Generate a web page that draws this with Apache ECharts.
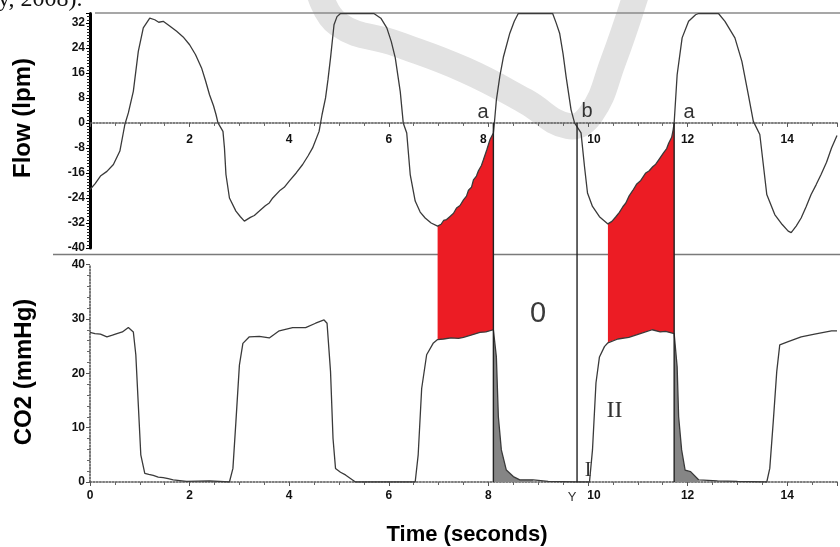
<!DOCTYPE html>
<html><head><meta charset="utf-8">
<script src="https://cdn.jsdelivr.net/npm/echarts@6/dist/echarts.min.js"></script>
<style>html,body{margin:0;padding:0;background:#fff}#c{width:840px;height:547px}</style>
</head><body><div id="c"></div>
<script>
// ---- data (time in seconds) ----
const timeTicks = [0, 2, 4, 6, 8, 10, 12, 14];
const flowTicks = [-40, -32, -24, -16, -8, 0, 8, 16, 24, 32];
const co2Ticks = [0, 10, 20, 30, 40];

// Flow (lpm): [time, value]; the trace is clipped by the display at ~35
const flowSamples = [
  [0.00,-21.3],[0.10,-19.5],[0.21,-17.0],[0.34,-15.5],[0.47,-13.3],[0.60,-9.0],[0.70,-0.5],[0.77,3.2],
  [0.87,10.1],[0.97,22.9],[1.07,30.4],[1.20,33.5],[1.30,33.0],[1.38,32.2],[1.47,32.5],[1.60,31.0],
  [1.74,29.3],[1.87,27.5],[2.00,25.0],[2.12,21.8],[2.24,17.6],[2.32,13.5],[2.40,9.0],[2.48,5.5],
  [2.53,2.7],[2.57,0.0],[2.67,-2.7],[2.70,-8.0],[2.73,-16.5],[2.80,-24.0],[2.93,-28.2],[3.02,-30.0],
  [3.10,-31.4],[3.22,-30.2],[3.30,-29.6],[3.40,-28.2],[3.52,-26.5],[3.60,-25.6],[3.67,-24.0],[3.82,-21.5],
  [3.90,-20.6],[4.00,-18.6],[4.14,-16.0],[4.27,-13.3],[4.38,-10.5],[4.47,-8.0],[4.60,-2.7],[4.66,2.7],
  [4.73,8.0],[4.78,14.0],[4.83,20.8],[4.90,31.4],[4.96,34.0],[5.03,35.0],[5.70,35.0],[5.84,33.5],
  [5.96,30.4],[6.05,26.0],[6.13,20.8],[6.23,10.0],[6.29,0.0],[6.36,-3.2],[6.43,-16.5],[6.53,-25.0],
  [6.63,-28.5],[6.73,-30.4],[6.85,-32.0],[6.98,-33.0],[7.05,-32.4],[7.10,-31.2],[7.16,-30.9],[7.23,-29.9],
  [7.30,-28.9],[7.36,-27.2],[7.43,-26.4],[7.50,-24.6],[7.56,-23.4],[7.60,-21.5],[7.66,-20.6],[7.70,-18.2],
  [7.76,-17.0],[7.80,-15.3],[7.86,-13.6],[7.90,-11.8],[7.97,-8.5],[8.03,-5.4],[8.10,-3.2],[8.12,0.0],
  [8.16,7.3],[8.23,15.0],[8.30,21.0],[8.43,28.7],[8.52,32.5],[8.60,35.0],[9.29,35.0],[9.36,32.0],
  [9.43,28.7],[9.50,22.0],[9.56,14.8],[9.66,4.2],[9.73,0.0],[9.86,-3.2],[9.93,-14.0],[9.99,-22.4],
  [10.09,-26.7],[10.23,-30.0],[10.40,-32.3],[10.48,-31.5],[10.56,-30.0],[10.63,-28.6],[10.70,-26.8],[10.76,-25.6],
  [10.82,-23.5],[10.90,-21.6],[10.98,-19.5],[11.06,-18.4],[11.16,-16.0],[11.23,-15.3],[11.30,-14.0],[11.36,-13.2],
  [11.42,-11.8],[11.52,-9.5],[11.58,-8.2],[11.62,-6.5],[11.68,-4.6],[11.71,-2.2],[11.73,0.0],[11.79,15.4],
  [11.89,27.2],[12.02,32.5],[12.16,34.6],[12.22,35.0],[12.62,35.0],[12.75,32.5],[12.95,27.2],[13.09,19.7],
  [13.22,9.0],[13.32,0.5],[13.45,-3.7],[13.52,-13.3],[13.59,-22.9],[13.75,-29.3],[13.90,-32.5],[14.02,-34.6],
  [14.08,-35.1],[14.18,-33.0],[14.28,-30.4],[14.38,-26.8],[14.48,-22.9],[14.58,-19.8],[14.68,-16.5],[14.79,-12.6],
  [14.89,-8.0],[15.00,-4.0]
];

// CO2 (mmHg): [time, value]
const co2Samples = [
  [0.00,27.5],[0.10,27.3],[0.21,27.2],[0.34,26.7],[0.45,27.0],[0.54,27.3],[0.65,27.6],[0.77,28.4],
  [0.87,27.6],[0.92,23.4],[0.97,14.2],[1.02,5.0],[1.10,1.6],[1.18,1.4],[1.27,1.2],[1.37,0.9],
  [1.47,0.8],[1.57,0.6],[1.67,0.4],[1.94,0.1],[2.40,0.2],[2.80,0.0],[2.87,2.5],[2.93,11.1],
  [3.00,21.5],[3.07,25.5],[3.20,26.7],[3.40,26.8],[3.60,26.5],[3.80,27.8],[4.07,28.4],[4.33,28.4],
  [4.53,29.2],[4.70,29.8],[4.76,29.2],[4.83,20.3],[4.88,8.0],[4.93,2.5],[5.03,1.8],[5.13,1.3],
  [5.33,0.0],[6.53,0.0],[6.59,5.0],[6.66,17.2],[6.76,23.4],[6.89,25.5],[6.98,26.2],[7.10,26.3],
  [7.25,26.5],[7.40,26.4],[7.50,26.6],[7.65,27.0],[7.83,27.5],[7.95,27.6],[8.10,28.0],[8.16,23.0],
  [8.20,12.0],[8.26,5.9],[8.36,2.2],[8.50,1.0],[8.63,0.4],[8.90,0.4],[9.20,0.1],[9.78,0.0],
  [10.03,0.0],[10.09,5.9],[10.16,18.2],[10.23,23.0],[10.33,24.9],[10.40,25.6],[10.43,25.8],[10.60,26.3],
  [10.82,26.6],[11.05,27.3],[11.29,28.0],[11.45,27.6],[11.56,27.7],[11.73,27.3],[11.79,21.2],[11.82,12.0],
  [11.88,5.9],[11.95,2.2],[12.06,1.9],[12.22,0.4],[12.60,0.2],[13.00,0.1],[13.59,0.0],[13.65,2.5],
  [13.72,11.1],[13.79,20.3],[13.85,25.2],[14.02,25.8],[14.28,26.7],[14.55,27.2],[14.89,27.8],[15.00,27.8]
];

// shaded spans (seconds)
const redSpans = [[6.98, 8.10], [10.40, 11.73]];
const greySpans = [[8.10, 8.90], [11.73, 12.22]];
const markerTimes = [8.10, 9.78, 11.73];

// ---- layout ----
const FLOW_MIN = -40, FLOW_MAX = 35;
const G0 = {left: 90, top: 13.5, width: 751.5, height: 234.5};
const G1 = {left: 90, top: 264.5, width: 751.5, height: 217.5};
// distance from top grid's bottom edge to its zero line
const zeroOffset = G0.height * (0 - FLOW_MIN) / (FLOW_MAX - FLOW_MIN);

// ---- chart ----
const chart = echarts.init(document.getElementById('c'), null, {renderer: 'canvas'});
const lblFont = {fontFamily: 'Liberation Sans', fontWeight: 'bold', fontSize: 12, color: '#111'};
const inSpan = (s, p) => p[0] >= s[0] - 1e-9 && p[0] <= s[1] + 1e-9;

function xAxisFor(grid, margin, hideZero, offset) {
  return {
    gridIndex: grid, type: 'value', min: 0, max: 15, interval: 2, position: 'bottom', offset: offset,
    axisLine: {onZero: false, lineStyle: {color: '#555', type: 'dotted', width: 1.6}},
    axisTick: {length: 4, lineStyle: {color: '#555', width: 1}},
    minorTick: {show: true, splitNumber: 4, length: 3, lineStyle: {color: '#666'}},
    splitLine: {show: false},
    axisLabel: Object.assign({}, lblFont, {
      margin: margin,
      formatter: v => {
        if (!timeTicks.includes(v) || (hideZero && v === 0)) return '';
        if (v === 10) return '{s|10}';
        if (hideZero && v === 8) return '{l|8}';
        return String(v);
      },
      rich: {
        s: Object.assign({}, lblFont, {padding: [0, 0, 0, 12]}),
        l: Object.assign({}, lblFont, {padding: [0, 10, 0, 0]})
      }
    })
  };
}

const option = {
  backgroundColor: '#fff',
  animation: false,
  grid: [G0, G1],
  xAxis: [xAxisFor(0, 11, true, -zeroOffset), xAxisFor(1, 8, false, 0)],
  yAxis: [
    {
      gridIndex: 0, type: 'value', min: FLOW_MIN, max: FLOW_MAX, interval: 8,
      axisLine: {show: true, onZero: false, lineStyle: {color: '#000', width: 3}},
      axisTick: {show: true, length: 4, lineStyle: {color: '#000'}},
      minorTick: {show: true, splitNumber: 8, length: 3, lineStyle: {color: '#222'}},
      splitLine: {show: false},
      axisLabel: Object.assign({}, lblFont, {margin: 5, formatter: v => flowTicks.includes(v) ? String(v) : ''})
    },
    {
      gridIndex: 1, type: 'value', min: 0, max: 40, interval: 10,
      axisLine: {show: true, onZero: false, lineStyle: {color: '#555', type: 'dotted', width: 1.6}},
      axisTick: {show: true, length: 4, lineStyle: {color: '#555'}},
      minorTick: {show: true, splitNumber: 5, length: 3, lineStyle: {color: '#666'}},
      splitLine: {show: false},
      axisLabel: Object.assign({}, lblFont, {margin: 5, formatter: v => co2Ticks.includes(v) ? String(v) : ''})
    }
  ],
  series: [
    {
      name: 'Flow', type: 'line', xAxisIndex: 0, yAxisIndex: 0, data: flowSamples,
      symbol: 'none', z: 4, lineStyle: {color: '#3a3a3a', width: 1.3}
    },
    {
      name: 'CO2', type: 'line', xAxisIndex: 1, yAxisIndex: 1, data: co2Samples,
      symbol: 'none', z: 4, lineStyle: {color: '#3a3a3a', width: 1.3}
    }
  ].concat(greySpans.map((s, i) => ({
    name: 'grey' + i, type: 'line', xAxisIndex: 1, yAxisIndex: 1,
    data: co2Samples.filter(p => inSpan(s, p)),
    symbol: 'none', z: 3, lineStyle: {width: 0}, areaStyle: {color: '#858585', opacity: 1}
  })))
};
chart.setOption(option);

// ---- overlays computed through the chart's own scales ----
const px0 = p => chart.convertToPixel({gridIndex: 0}, p);
const px1 = p => chart.convertToPixel({gridIndex: 1}, p);

const graphics = [];
// background watermark stroke
graphics.push({
  type: 'polyline', z: 0, silent: true,
  shape: {points: [[318,-12],[338,24],[397,44],[465,70],[525,101],[568,126],[591,114],[613,62],[638,-12]], smooth: 0.45},
  style: {stroke: '#e2e2e2', lineWidth: 26, fill: null, lineCap: 'round', lineJoin: 'round'}
});
// frame lines
graphics.push({type: 'line', z: 1, shape: {x1: 95, y1: 13, x2: 840, y2: 13}, style: {stroke: '#8a8a8a', lineWidth: 1.6}});
graphics.push({type: 'line', z: 1, shape: {x1: 53, y1: 254.5, x2: 840, y2: 254.5}, style: {stroke: '#7a7a7a', lineWidth: 1.6}});

// red areas between flow trace and CO2 trace
redSpans.forEach(s => {
  const top = flowSamples.filter(p => inSpan(s, p)).map(px0);
  const bot = co2Samples.filter(p => inSpan(s, p)).map(px1).reverse();
  graphics.push({type: 'polygon', z: 2, shape: {points: top.concat(bot)}, style: {fill: '#ec1c24'}});
});
// vertical marker lines from flow 0 to CO2 0
markerTimes.forEach(t => {
  const a = px0([t, 0]), b = px1([t, 0]);
  graphics.push({type: 'line', z: 5, shape: {x1: a[0], y1: a[1], x2: b[0], y2: b[1]}, style: {stroke: '#222', lineWidth: 1.4}});
});

// texts
const txt = (text, x, y, font, opts) => Object.assign({
  type: 'text', z: 6, x: x, y: y,
  style: Object.assign({text: text, font: font, fill: '#333', align: 'center', verticalAlign: 'middle'}, opts || {})
});
graphics.push(txt('y, 2008).', -2, 0, '24px "Liberation Serif"', {align: 'left', fill: '#111'}));
graphics.push(Object.assign(txt('Flow (lpm)', 23, 118, 'bold 24px "Liberation Sans"', {fill: '#000'}), {rotation: Math.PI / 2}));
graphics.push(Object.assign(txt('CO2 (mmHg)', 24, 372, 'bold 24px "Liberation Sans"', {fill: '#000'}), {rotation: Math.PI / 2}));
graphics.push(txt('Time (seconds)', 467, 535, 'bold 22px "Liberation Sans"', {fill: '#000'}));
graphics.push(txt('a', 483, 112, '20px "Liberation Sans"'));
graphics.push(txt('b', 587, 111, '20px "Liberation Sans"'));
graphics.push(txt('a', 689, 112, '20px "Liberation Sans"'));
graphics.push(txt('0', 538, 314, '29px "Liberation Sans"', {fill: '#3a3a3a'}));
graphics.push(txt('II', 614.5, 411, '24px "Liberation Serif"'));
graphics.push(txt('I', 588, 471, '20px "Liberation Serif"'));
graphics.push(txt('Y', 572, 497, '13px "Liberation Sans"'));

chart.setOption({graphic: graphics});
</script>
</body></html>
